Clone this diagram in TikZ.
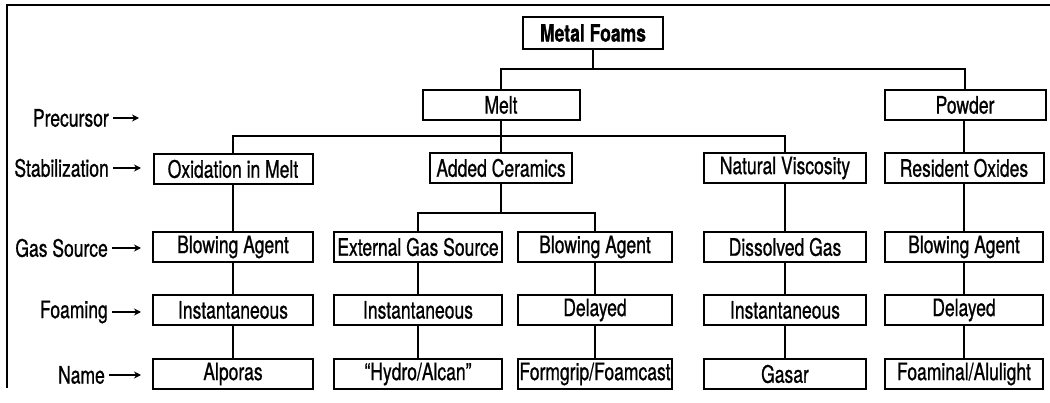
\documentclass[tikz,border=0pt]{standalone}
\usepackage{fontspec}
\setmainfont[FakeStretch=0.73, FakeBold=0.8]{TeX Gyre Heros}
\usepackage{tikz}
\usetikzlibrary{arrows.meta}

\begin{document}
\begin{tikzpicture}[x=1pt, y=-1pt,
        box/.style={draw, line width=2pt, minimum height=30pt, inner sep=0pt,
            font=\fontsize{24}{26}\selectfont},
        lab/.style={anchor=east, inner sep=0pt, font=\fontsize{24}{26}\selectfont},
        link/.style={line width=2pt},
        pointer/.style={line width=2pt, -{Stealth[length=7pt,width=7pt]}}]
        \useasboundingbox (0,0) rectangle (1050,403);
        % frame of the scanned figure
        \draw[line width=1.2pt] (7,388) -- (7,5) -- (1050,5);

        % tree of boxes
        \node[box, minimum width=140pt, minimum height=32pt] (mf) at (593,33) {\bfseries Metal Foams};
        \node[box, minimum width=157pt] (melt) at (501,105) {Melt};
        \node[box, minimum width=161pt] (powder) at (965,105) {Powder};

        \node[box, minimum width=159pt] (oxid) at (233,169) {Oxidation in Melt};
        \node[box, minimum width=142pt] (ceram) at (501,168) {Added Ceramics};
        \node[box, minimum width=162pt] (visc) at (785,168) {Natural Viscosity};
        \node[box, minimum width=159pt] (oxides) at (964,168) {Resident Oxides};

        \node[box, minimum width=160pt] (gasa) at (233,247) {Blowing Agent};
        \node[box, minimum width=168pt] (gasb) at (418,247) {External Gas Source};
        \node[box, minimum width=154pt] (gasc) at (595,247) {Blowing Agent};
        \node[box, minimum width=162pt] (gasd) at (785,247) {Dissolved Gas};
        \node[box, minimum width=158pt] (gase) at (964,247) {Blowing Agent};

        \node[box, minimum width=160pt] (foama) at (233,310) {Instantaneous};
        \node[box, minimum width=168pt] (foamb) at (418,310) {Instantaneous};
        \node[box, minimum width=154pt] (foamc) at (595,310) {Delayed};
        \node[box, minimum width=162pt] (foamd) at (785,310) {Instantaneous};
        \node[box, minimum width=158pt] (foame) at (964,310) {Delayed};

        \node[box, minimum width=160pt] (namea) at (233,374) {Alporas};
        \node[box, minimum width=168pt] (nameb) at (418,374) {``Hydro/Alcan''};
        \node[box, minimum width=154pt] (namec) at (595,374) {Formgrip/Foamcast};
        \node[box, minimum width=162pt] (named) at (785,374) {Gasar};
        \node[box, minimum width=158pt] (namee) at (964,374) {Foaminal/Alulight};

        % junctions
        \coordinate (jtop) at (593,69);
        \coordinate (jmelt) at (501,136);
        \coordinate (jceram) at (501,213);

        \draw[link] (mf.south) -- (jtop);
        \draw[link] (melt.north) |- (jtop) -| (powder.north);
        \draw[link] (melt.south) -- (jmelt);
        \draw[link] (oxid.north) |- (jmelt) -| (visc.north);
        \draw[link] (jmelt) -- (ceram.north);
        \draw[link] (oxides.north) -- (oxides.north |- powder.south);

        \draw[link] (ceram.south) -- (jceram);
        \draw[link] (gasb.north) |- (jceram) -| (gasc.north);

        \draw[link] (oxid.south) -- (gasa.north);
        \draw[link] (visc.south) -- (gasd.north);
        \draw[link] (oxides.south) -- (gase.north);

        \draw[link] (gasa) -- (foama);
        \draw[link] (gasb) -- (foamb);
        \draw[link] (gasc) -- (foamc);
        \draw[link] (gasd) -- (foamd);
        \draw[link] (gase) -- (foame);

        \draw[link] (foama) -- (namea);
        \draw[link] (foamb) -- (nameb);
        \draw[link] (foamc) -- (namec);
        \draw[link] (foamd) -- (named);
        \draw[link] (foame) -- (namee);

        % level labels
        \node[lab] (lprec) at (109,118) {Precursor};
        \node[lab] (lstab) at (109,168) {Stabilization};
        \node[lab] (lgas) at (108,248) {Gas Source};
        \node[lab] (lfoam) at (108,312) {Foaming};
        \node[lab] (lname) at (105,375) {Name};

        \coordinate (aprec) at (139,118);
        \coordinate (astab) at (141,168);
        \coordinate (agas) at (141,248);
        \coordinate (afoam) at (141,312);
        \coordinate (aname) at (141,375);

        \draw[pointer] ([xshift=4pt]lprec.east) -- (aprec);
        \draw[pointer] ([xshift=4pt]lstab.east) -- (astab);
        \draw[pointer] ([xshift=4pt]lgas.east) -- (agas);
        \draw[pointer] ([xshift=4pt]lfoam.east) -- (afoam);
        \draw[pointer] ([xshift=4pt]lname.east) -- (aname);
    \end{tikzpicture}
\end{document}
